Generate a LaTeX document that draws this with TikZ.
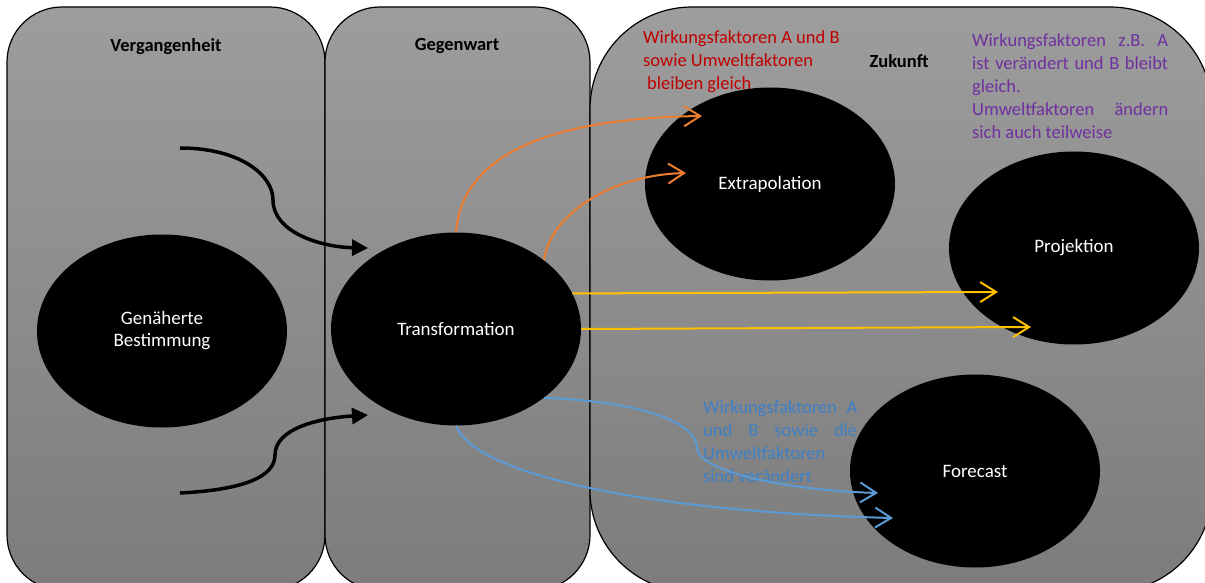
\documentclass[tikz,border=0pt]{standalone}
\usepackage{fontspec}
\setmainfont{Carlito}
\usetikzlibrary{shapes.geometric,arrows.meta}
\definecolor{pantop}{RGB}{157,157,157}
\definecolor{panbot}{RGB}{124,124,124}
\definecolor{orng}{RGB}{237,125,49}
\definecolor{yel}{RGB}{255,192,0}
\definecolor{blu}{RGB}{91,155,213}
\definecolor{redt}{RGB}{192,0,0}
\definecolor{purp}{RGB}{112,48,160}
\definecolor{blut}{RGB}{62,128,198}
\tikzset{
  panel/.style={draw=black, line width=1.2pt, top color=pantop, bottom color=panbot},
  ell/.style={ellipse, fill=black, text=white, minimum width=250pt, minimum height=193pt, inner sep=0pt, align=center, font=\fontsize{19}{22}\selectfont},
  hdr/.style={font=\bfseries\fontsize{18.5}{20}\selectfont, text=black},
  note/.style={inner sep=0pt, align=left, anchor=north west, font=\fontsize{18.5}{23}\selectfont},
  blk/.style={line width=3.5pt, -{Triangle[length=16pt,width=16pt]}},
  opn/.style={line width=2pt, -{Straight Barb[length=16pt,width=20pt]}},
}
\begin{document}
\begin{tikzpicture}[x=1pt,y=-1pt]
\useasboundingbox (0,0) rectangle (1205,583);
\begin{scope}
\clip (0,0) rectangle (1205,583);
\path[panel, rounded corners=55pt] (7,7) rectangle (325,590);
\path[panel, rounded corners=55pt] (325,7) rectangle (590,590);
\path[panel, rounded corners=102pt] (590,7) rectangle (1212,592);
\end{scope}

\node[hdr] (hv) at (166,47) {Vergangenheit};
\node[hdr] (hg) at (457,46) {Gegenwart};
\node[hdr] (hz) at (899,61) {Zukunft};

\node[ell] (gen) at (162,331) {Genäherte\\Bestimmung};
\node[ell] (trans) at (456,329) {Transformation};
\node[ell] (extra) at (770,184) {Extrapolation};
\node[ell] (proj) at (1074,248) {Projektion};
\node[ell] (fore) at (975,471) {Forecast};

\node[note, text=redt] (nred) at (643,30) {Wirkungsfaktoren A und B\\sowie Umweltfaktoren\\\hspace*{4pt}bleiben gleich};
\node[note, text=purp] (npur) at (972,33) {\makebox[196pt][s]{Wirkungsfaktoren z.B. A}\\\makebox[196pt][s]{ist verändert und B bleibt}\\gleich.\\\makebox[196pt][s]{Umweltfaktoren ändern}\\sich auch teilweise};
\node[note, text=blut] (nblu) at (703,400) {\makebox[154pt][s]{Wirkungsfaktoren A}\\\makebox[154pt][s]{und B sowie die}\\Umweltfaktoren\\sind verändert};

\coordinate (b1s) at (180,148);
\coordinate (b1m) at (273,200);
\coordinate (b1e) at (368,248);
\coordinate (b2s) at (180,493);
\coordinate (b2m) at (275,455);
\coordinate (b2e) at (368,415);
\draw[blk] (b1s) .. controls (240,148) and (273,175) .. (b1m) .. controls (273,232) and (320,247) .. (b1e);
\draw[blk] (b2s) .. controls (240,490) and (275,478) .. (b2m) .. controls (275,428) and (320,418) .. (b2e);

\coordinate (o1e) at (702,116);
\coordinate (o2e) at (686,173);
\draw[opn, orng] (trans.north) .. controls (462,150) and (560,118) .. (o1e);
\draw[opn, orng] (trans.38) .. controls (550,215) and (610,175) .. (o2e);

\coordinate (y1e) at (998,292);
\coordinate (y2e) at (1031,327);
\draw[opn, yel] (trans.17) -- (y1e);
\draw[opn, yel] (trans.east) -- (y2e);

\coordinate (c1m) at (697,448);
\coordinate (c1e) at (878,493);
\coordinate (c2e) at (893,518);
\draw[opn, blu] (trans.-38) .. controls (650,402) and (697,425) .. (c1m) .. controls (697,470) and (780,490) .. (c1e);
\draw[opn, blu] (trans.south) .. controls (475,475) and (650,512) .. (c2e);
\end{tikzpicture}
\end{document}
